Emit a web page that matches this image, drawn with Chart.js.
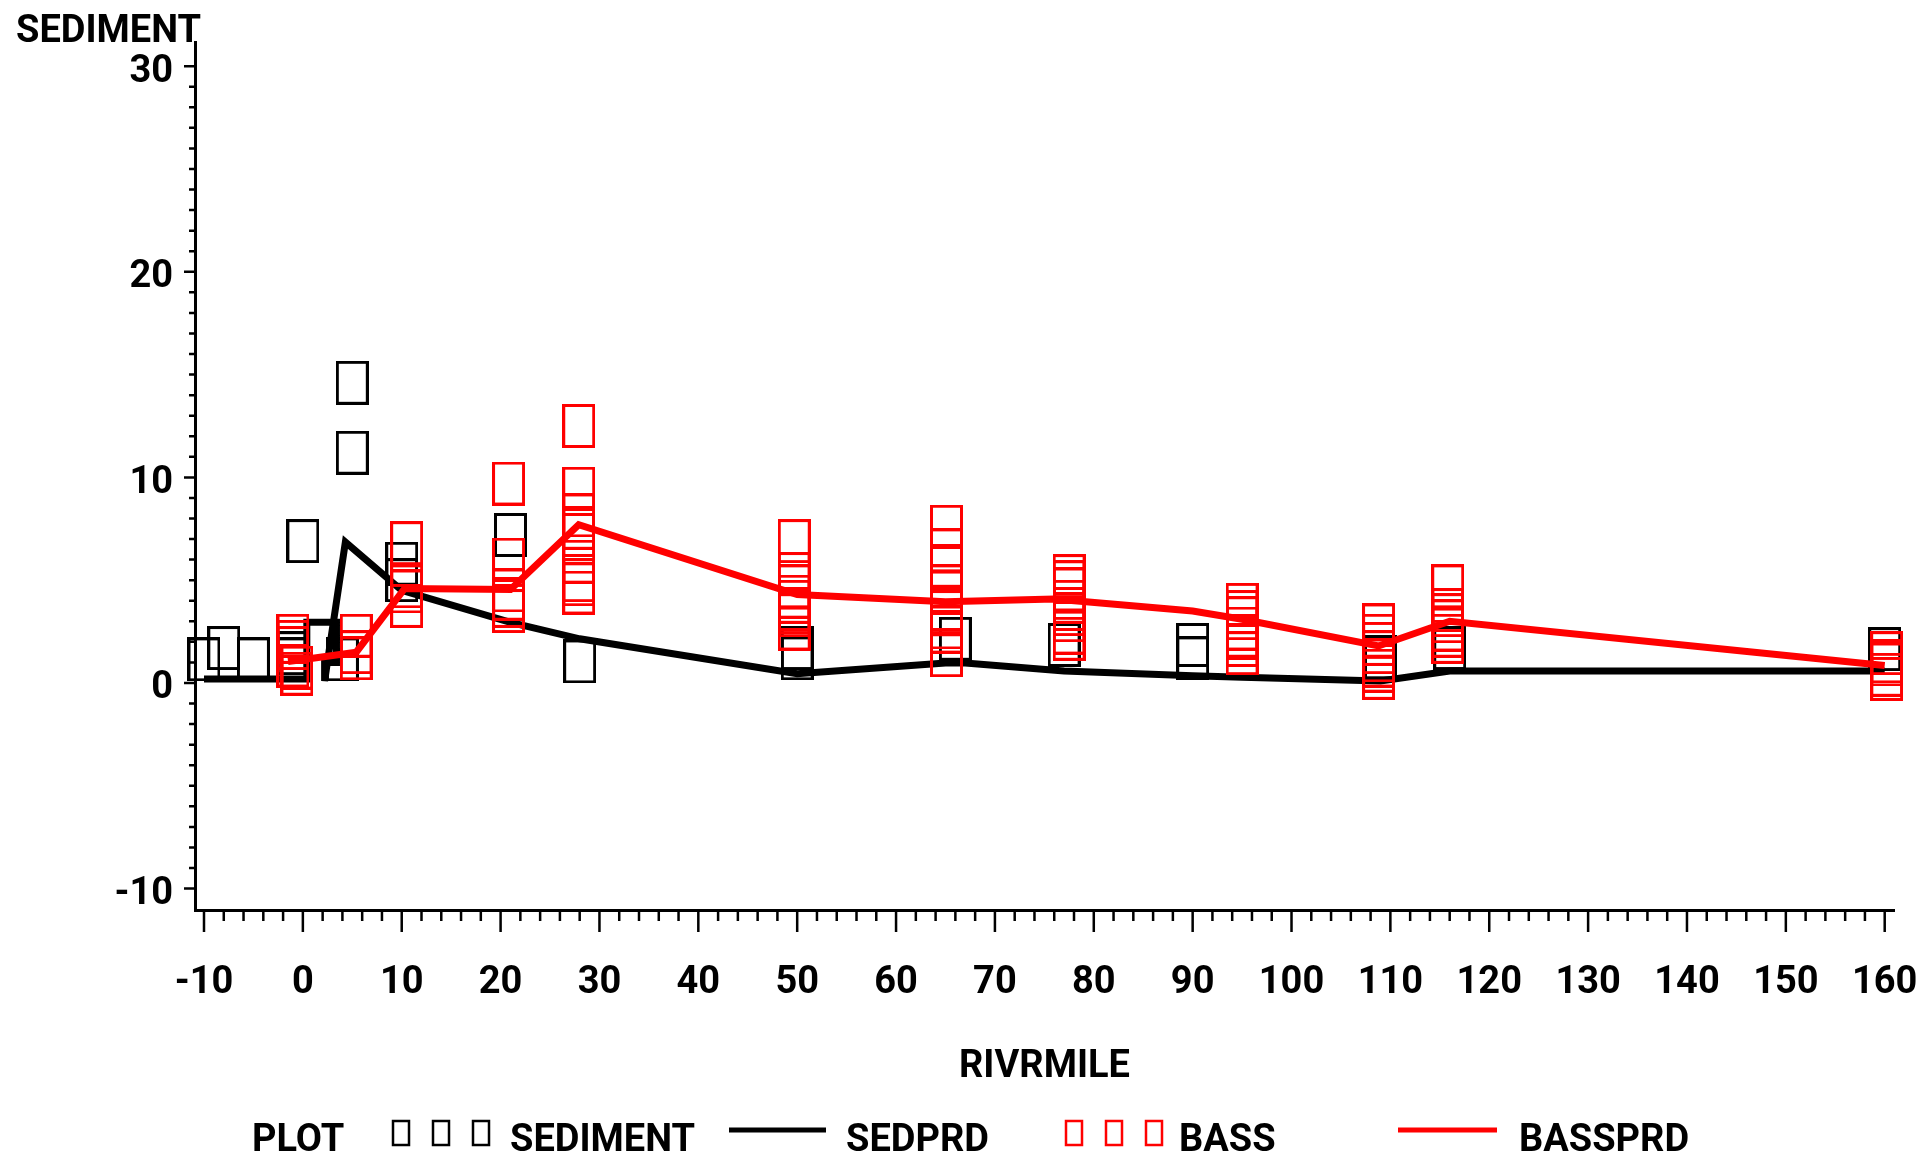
<!DOCTYPE html>
<html>
<head>
<meta charset="utf-8">
<title>SEDIMENT by RIVRMILE</title>
<script src="https://cdn.jsdelivr.net/npm/chart.js@4.4.1/dist/chart.umd.min.js"></script>
<style>
  html, body { margin: 0; padding: 0; background: #fff; }
</style>
</head>
<body>
<canvas id="chart" width="1931" height="1153"></canvas>
<script>
// observed sediment, one list of values per river mile station
const sedimentMiles = [-10, -8, -5, -1, 0, 4, 5, 10, 21, 28, 50, 66, 77, 90, 109, 116, 160];
const sedimentValues = [[1.15], [1.7], [1.15], [1.45, 1.15], [6.9], [1.15], [14.6, 11.2], [5.8, 5.0], [7.2], [1.05],
    [1.7, 1.2], [2.15], [1.85], [1.85, 1.2], [1.25], [1.7], [1.65]];

// observed bass, one list of values per river mile station
const bassMiles = [-1, -0.6, 5.4, 10.5, 20.8, 27.9, 49.7, 65.1, 77.5, 95, 108.8, 115.8, 160.2];
const bassValues = [
    [2.3, 2.0, 1.7, 0.85],
    [0.75, 0.45],
    [2.3, 1.5, 1.2],
    [6.8, 4.7, 4.45, 3.75],
    [9.7, 6.0, 4.5, 4.1, 3.75, 3.5],
    [12.5, 9.45, 8.15, 7.55, 7.2, 5.9, 5.0, 4.8, 4.4],
    [6.9, 5.3, 4.7, 4.2, 3.95, 3.6, 3.45, 3.3, 2.65],
    [7.6, 6.45, 5.7, 4.7, 4.4, 3.6, 3.45, 2.7, 2.5, 1.35],
    [5.2, 4.9, 4.55, 3.95, 3.6, 3.35, 3.05, 2.45, 2.15],
    [3.8, 3.45, 3.15, 2.65, 2.3, 2.2, 1.85, 1.45],
    [2.8, 2.3, 1.9, 1.5, 1.1, 0.85, 0.6, 0.25],
    [4.7, 3.55, 3.3, 3.0, 2.6, 2.3, 2.0],
    [1.45, 1.05, 0.9, 0.4, 0.2]
];

// predicted lines, joined in data order
const sedprdMiles = [-10, -1, 0.4, 0.4, 3.4, 3.4, 2.2, 2.2, 4.3, 10, 21, 28, 50, 65, 67, 77, 90, 95, 109, 116, 160];
const sedprdValues = [0.2, 0.2, 0.2, 2.95, 2.95, 1.0, 1.0, 0.1, 6.85, 4.5, 2.95, 2.15, 0.45, 0.97, 0.97, 0.58, 0.35, 0.28, 0.1, 0.58, 0.58];
const bassprdMiles = [-1.5, 1, 5.4, 10.3, 21, 27.9, 50, 65, 76, 90, 95, 108.8, 116, 160];
const bassprdValues = [1.05, 1.2, 1.5, 4.6, 4.55, 7.7, 4.3, 3.95, 4.08, 3.5, 3.1, 1.8, 3.0, 0.85];

// narrow lettering, close to the SAS device font
const FONT = 'Roboto, "Noto Sans", sans-serif';
const FONT_SIZE = 38;

function stationPoints(miles, values) {
    const pts = [];
    miles.forEach((m, i) => values[i].forEach(v => pts.push({ x: m, y: v })));
    return pts;
}

function linePoints(miles, values) {
    return miles.map((m, i) => ({ x: m, y: values[i] }));
}

// SAS style open box marker
function boxMarker(color, w, h, lw) {
    const c = document.createElement('canvas');
    c.width = w;
    c.height = h;
    const g = c.getContext('2d');
    g.strokeStyle = color;
    g.lineWidth = lw;
    g.strokeRect(lw / 2, lw / 2, w - lw, h - lw);
    return c;
}

// major / minor tick marks drawn off the scales
const axisTicks = {
    id: 'axisTicks',
    afterDraw(chart) {
        const { ctx, scales: { x, y } } = chart;
        ctx.save();
        ctx.strokeStyle = '#000';
        ctx.lineWidth = 2.5;
        ctx.beginPath();
        x.ticks.forEach(t => {
            const px = x.getPixelForValue(t.value);
            const len = t.value % 10 === 0 ? 22 : 11;
            ctx.moveTo(px, x.top);
            ctx.lineTo(px, x.top + len);
        });
        y.ticks.forEach(t => {
            if (t.value < -10 || t.value > 30) return;
            const py = y.getPixelForValue(t.value);
            const len = t.value % 10 === 0 ? 11 : 6;
            ctx.moveTo(y.right, py);
            ctx.lineTo(y.right - len, py);
        });
        ctx.stroke();
        ctx.restore();
    }
};

// legend row: PLOT  [] [] [] SEDIMENT  ---- SEDPRD ...
const legendSlots = [
    { from: 401, to: 481, text: 510 },
    { from: 729, to: 826, text: 846 },
    { from: 1074, to: 1154, text: 1179 },
    { from: 1398, to: 1497, text: 1519 }
];

const plotLegend = {
    id: 'plotLegend',
    afterDraw(chart) {
        const ctx = chart.ctx;
        const y = 1141;
        ctx.save();
        ctx.font = 'bold ' + FONT_SIZE + 'px ' + FONT;
        ctx.textBaseline = 'middle';
        ctx.textAlign = 'left';
        ctx.fillStyle = '#000';
        ctx.fillText('PLOT', 252, y);
        chart.data.datasets.forEach((ds, i) => {
            const slot = legendSlots[i];
            if (ds.showLine) {
                ctx.strokeStyle = ds.borderColor;
                ctx.lineWidth = 5;
                ctx.beginPath();
                ctx.moveTo(slot.from, y - 11);
                ctx.lineTo(slot.to, y - 11);
                ctx.stroke();
            } else {
                ctx.strokeStyle = ds.markerColor;
                ctx.lineWidth = 2.5;
                const step = (slot.to - slot.from) / 2;
                for (let k = 0; k < 3; k++) {
                    const cx = slot.from + k * step;
                    ctx.strokeRect(cx - 8, y - 20, 16, 24);
                }
            }
            ctx.fillStyle = '#000';
            ctx.fillText(ds.label, slot.text, y);
        });
        ctx.restore();
    }
};

Chart.defaults.font.family = FONT;
Chart.defaults.font.size = FONT_SIZE;
Chart.defaults.font.weight = 'bold';
Chart.defaults.color = '#000';

new Chart(document.getElementById('chart'), {
    type: 'scatter',
    data: {
        datasets: [
            {
                label: 'SEDIMENT',
                data: stationPoints(sedimentMiles, sedimentValues),
                markerColor: '#000',
                pointStyle: boxMarker('#000', 33, 44, 3),
                pointRadius: 5,
                showLine: false,
                clip: false,
                order: 4
            },
            {
                label: 'SEDPRD',
                data: linePoints(sedprdMiles, sedprdValues),
                showLine: true,
                borderColor: '#000',
                borderWidth: 7,
                pointRadius: 0,
                clip: false,
                order: 3
            },
            {
                label: 'BASS',
                data: stationPoints(bassMiles, bassValues),
                markerColor: '#ff0000',
                pointStyle: boxMarker('#ff0000', 33, 44, 3),
                pointRadius: 5,
                showLine: false,
                clip: false,
                order: 2
            },
            {
                label: 'BASSPRD',
                data: linePoints(bassprdMiles, bassprdValues),
                showLine: true,
                borderColor: '#ff0000',
                borderWidth: 7,
                pointRadius: 0,
                clip: false,
                order: 1
            }
        ]
    },
    options: {
        responsive: false,
        animation: false,
        layout: { padding: { left: 16, right: 37, top: 0, bottom: 63 } },
        plugins: {
            legend: { display: false },
            tooltip: { enabled: false },
            title: {
                display: true,
                text: 'SEDIMENT',
                align: 'start',
                color: '#000',
                font: { size: FONT_SIZE, weight: 'bold', lineHeight: 0.55 },
                padding: { top: 22, bottom: 0 }
            }
        },
        scales: {
            x: {
                type: 'linear',
                min: -10.91,
                max: 160.94,
                border: { display: true, color: '#000', width: 3 },
                // ticks are drawn by axisTicks; tickLength only spaces the labels
                grid: { display: false, drawTicks: true, tickLength: 51 },
                ticks: {
                    stepSize: 2,
                    includeBounds: false,
                    autoSkip: false,
                    maxRotation: 0,
                    padding: 0,
                    callback: v => (v % 10 === 0 ? String(v) : '')
                },
                title: { display: true, text: 'RIVRMILE', padding: 0 },
                afterFit: s => { s.height = 180; }
            },
            y: {
                type: 'linear',
                min: -11.04,
                max: 31.13,
                border: { display: true, color: '#000', width: 3 },
                grid: { display: false, drawTicks: true, tickLength: 22 },
                ticks: {
                    stepSize: 1,
                    includeBounds: false,
                    autoSkip: false,
                    padding: 0,
                    labelOffset: 6,
                    callback: v => (v % 10 === 0 ? String(v) : '')
                },
                afterFit: s => { s.width = 179; }
            }
        }
    },
    plugins: [axisTicks, plotLegend]
});
</script>
</body>
</html>
